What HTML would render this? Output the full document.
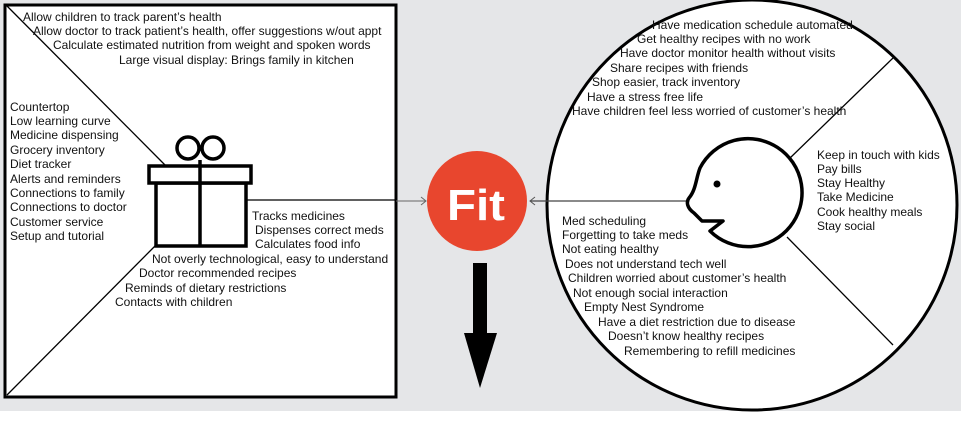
<!DOCTYPE html>
<html><head><meta charset="utf-8"><style>
html,body{margin:0;padding:0;background:#fff;}
svg{display:block;}
text{font-family:"Liberation Sans",Arial,sans-serif;font-size:12px;fill:#111;}
</style></head><body>
<svg width="976" height="424" viewBox="0 0 976 424" xmlns="http://www.w3.org/2000/svg">
<rect x="0" y="0" width="961" height="411" fill="#e5e6e8"/>
<!-- left square -->
<rect x="5" y="5" width="391" height="392" fill="#fff" stroke="#000" stroke-width="3"/>
<line x1="7" y1="6" x2="165" y2="165" stroke="#000" stroke-width="1.3"/>
<line x1="7" y1="395" x2="155" y2="246" stroke="#000" stroke-width="1.3"/>
<line x1="247" y1="200" x2="396" y2="200" stroke="#000" stroke-width="1.3"/>
<!-- gift -->
<circle cx="188" cy="148" r="11" fill="none" stroke="#000" stroke-width="3.5"/>
<circle cx="213" cy="148" r="11" fill="none" stroke="#000" stroke-width="3.5"/>
<rect x="156" y="183" width="90" height="63" fill="#fff" stroke="#000" stroke-width="3.5"/>
<rect x="149" y="166" width="102" height="17" fill="#fff" stroke="#000" stroke-width="3.5"/>
<line x1="200" y1="160" x2="200" y2="246" stroke="#000" stroke-width="3.5"/>
<!-- connector square -> Fit -->
<line x1="396" y1="201" x2="426" y2="201" stroke="#666" stroke-width="1"/>
<path d="M421 197 L426 201 L421 205" fill="none" stroke="#666" stroke-width="1"/>
<!-- Fit circle -->
<circle cx="477" cy="201" r="50" fill="#e8462e"/>
<text x="447" y="220" textLength="58" lengthAdjust="spacingAndGlyphs" style="font-size:44px;font-weight:bold;fill:#fff;">Fit</text>
<!-- down arrow -->
<rect x="473" y="263" width="14" height="72" fill="#000"/>
<polygon points="464,333 497,333 480,388" fill="#000"/>
<!-- big circle -->
<circle cx="752" cy="205" r="205" fill="#fff" stroke="#000" stroke-width="3"/>
<line x1="530" y1="201" x2="688" y2="201" stroke="#444" stroke-width="1.2"/>
<path d="M535 197 L530 201 L535 205" fill="none" stroke="#555" stroke-width="1"/>
<line x1="789" y1="159" x2="893" y2="58" stroke="#000" stroke-width="1.3"/>
<line x1="787" y1="237" x2="893" y2="345" stroke="#000" stroke-width="1.3"/>
<!-- head -->
<path d="M700 168 A54 54 0 1 1 710 231 L723 221 L702 221 L694 213 C687 208 686 202 689 198 C696 190 696 178 700 168 Z" fill="#fff" stroke="#000" stroke-width="3.5" stroke-linejoin="round"/>
<circle cx="717" cy="184" r="3.5" fill="#000"/>
<!-- left square texts -->
<text x="23" y="21">Allow children to track parent’s health</text>
<text x="33" y="35">Allow doctor to track patient’s health, offer suggestions w/out appt</text>
<text x="53" y="49">Calculate estimated nutrition from weight and spoken words</text>
<text x="119" y="64">Large visual display: Brings family in kitchen</text>
<text x="10" y="111">Countertop</text>
<text x="10" y="125">Low learning curve</text>
<text x="10" y="139">Medicine dispensing</text>
<text x="10" y="154">Grocery inventory</text>
<text x="10" y="168">Diet tracker</text>
<text x="10" y="183">Alerts and reminders</text>
<text x="10" y="197">Connections to family</text>
<text x="10" y="211">Connections to doctor</text>
<text x="10" y="226">Customer service</text>
<text x="10" y="240">Setup and tutorial</text>
<text x="252" y="220">Tracks medicines</text>
<text x="255" y="234">Dispenses correct meds</text>
<text x="255" y="248">Calculates food info</text>
<text x="152" y="263">Not overly technological, easy to understand</text>
<text x="139" y="277">Doctor recommended recipes</text>
<text x="125" y="292">Reminds of dietary restrictions</text>
<text x="115" y="306">Contacts with children</text>
<!-- circle texts -->
<text x="652" y="29">Have  medication schedule automated</text>
<text x="637" y="43">Get healthy recipes with no work</text>
<text x="620" y="57">Have doctor monitor health without visits</text>
<text x="610" y="72">Share recipes with friends</text>
<text x="592" y="86">Shop easier, track inventory</text>
<text x="587" y="101">Have a stress free life</text>
<text x="572" y="115">Have  children feel less worried of customer’s health</text>
<text x="817" y="159">Keep in touch with kids</text>
<text x="817" y="173">Pay bills</text>
<text x="817" y="187">Stay Healthy</text>
<text x="817" y="201">Take Medicine</text>
<text x="817" y="216">Cook healthy meals</text>
<text x="817" y="230">Stay social</text>
<text x="562" y="225">Med scheduling</text>
<text x="562" y="239">Forgetting to take meds</text>
<text x="562" y="253">Not eating healthy</text>
<text x="565" y="268">Does not understand tech well</text>
<text x="568" y="282">Children worried about customer’s health</text>
<text x="573" y="297">Not enough social interaction</text>
<text x="584" y="311">Empty Nest Syndrome</text>
<text x="598" y="326">Have a diet restriction due to disease</text>
<text x="608" y="340">Doesn’t know healthy recipes</text>
<text x="624" y="355">Remembering to refill medicines</text>
</svg>
</body></html>
